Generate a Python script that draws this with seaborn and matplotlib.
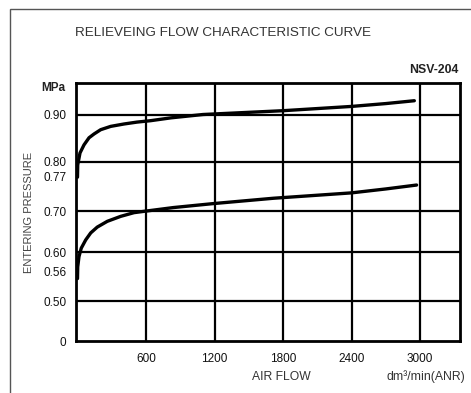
import numpy as np
import pandas as pd
import matplotlib
matplotlib.use("Agg")
import matplotlib.pyplot as plt
from matplotlib.patches import Rectangle
import seaborn as sns

sns.set_style("white")
plt.rcParams['font.family'] = ['Liberation Sans', 'DejaVu Sans']

# ---- data ----
upper_flow = [0, 2, 22, 57, 101, 145, 203, 291, 407, 521, 641, 820, 1100, 1800, 2400, 2700, 2950]
upper_pres = [0.769, 0.794, 0.819, 0.836, 0.851, 0.859, 0.868, 0.875, 0.880, 0.884, 0.887,
              0.893, 0.900, 0.908, 0.917, 0.923, 0.929]
lower_flow = [0, 2, 13, 33, 72, 116, 173, 261, 378, 495, 606, 839, 1184, 1715, 2400, 2700, 2970]
lower_pres = [0.546, 0.570, 0.591, 0.610, 0.630, 0.647, 0.661, 0.675, 0.687, 0.696, 0.700,
              0.707, 0.715, 0.726, 0.737, 0.745, 0.753]

grid_flow = [600, 1200, 1800, 2400, 3000]
minor_flow = [300, 900, 1500, 2100, 2700]
grid_pres = [0.5, 0.6, 0.7, 0.8, 0.9]
extra_pres = [0, 0.56, 0.77]

# broken pressure axis: piecewise-linear scale between printed grid levels
anchor_p = [0.0, 0.5, 0.6, 0.7, 0.8, 0.9, 1.0]
anchor_y = [0.0, 40, 88.7, 130, 179, 226.5, 274]

def fwd(p):
    return np.interp(p, anchor_p, anchor_y)

def inv(y):
    return np.interp(y, anchor_y, anchor_p)

df = pd.concat([
    pd.DataFrame({'flow': upper_flow, 'pres': upper_pres, 'curve': 'upper'}),
    pd.DataFrame({'flow': lower_flow, 'pres': lower_pres, 'curve': 'lower'}),
])

fig = plt.figure(figsize=(4.71, 3.93), dpi=100)
ax = fig.add_axes([76 / 471, 1 - 341 / 393, 384 / 471, 258 / 393])
ax.set_yscale('function', functions=(fwd, inv))

for v in grid_flow:
    ax.axvline(v, color='black', lw=1.6, zorder=1)
for v in grid_pres:
    ax.axhline(v, color='black', lw=1.6, zorder=1)

sns.lineplot(data=df, x='flow', y='pres', units='curve', estimator=None,
             color='black', lw=2.4, ax=ax, zorder=3)

ax.set_xlim(-13, 3350)
ax.set_ylim(0, inv(258))

ax.set_xticks(grid_flow)
ax.set_xticklabels([str(v) for v in grid_flow])
ax.set_xticks(minor_flow, minor=True)
ax.tick_params(axis='x', which='major', length=3, width=1.5, direction='out', pad=6,
               labelsize=8.5, labelcolor='#111111')
ax.tick_params(axis='x', which='minor', length=3, width=1.5, direction='in')

ytk = sorted(grid_pres + extra_pres)
ax.set_yticks(ytk)
ax.set_yticklabels(['0' if v == 0 else f"{v:.2f}" for v in ytk])
ax.yaxis.set_minor_locator(matplotlib.ticker.NullLocator())
ax.tick_params(axis='y', length=0, pad=7, labelsize=8.5, labelcolor='#111111')

for s in ax.spines.values():
    s.set_linewidth(2.0)
    s.set_color('black')
ax.set_xlabel('')
ax.set_ylabel('')

fig.text(75 / 471, 1 - 33 / 393, 'RELIEVEING FLOW CHARACTERISTIC CURVE',
         fontsize=9.7, color='#333333', va='center', ha='left')
fig.text(458 / 471, 1 - 70 / 393, 'NSV-204', fontsize=8.8, fontweight='bold',
         color='#222222', va='center', ha='right')
fig.text(65 / 471, 1 - 88 / 393, 'MPa', fontsize=8.5, fontweight='bold',
         color='#222222', va='center', ha='right')
fig.text(29 / 471, 1 - 212 / 393, 'ENTERING PRESSURE', fontsize=8, color='#444444',
         rotation=90, va='center', ha='center')
fig.text(281 / 471, 1 - 377 / 393, 'AIR FLOW', fontsize=8.7, color='#333333',
         va='center', ha='center')
fig.text(426 / 471, 1 - 377 / 393, 'dm³/min(ANR)', fontsize=8.8, color='#333333',
         va='center', ha='center')

# outer frame of the scanned sheet
fig.patches.append(Rectangle((10 / 471, -0.1), 1.2, 1 - 9 / 393 + 0.1,
                             transform=fig.transFigure, fill=False,
                             edgecolor='#555555', lw=1.0))

fig.savefig('out.png', dpi=100)
